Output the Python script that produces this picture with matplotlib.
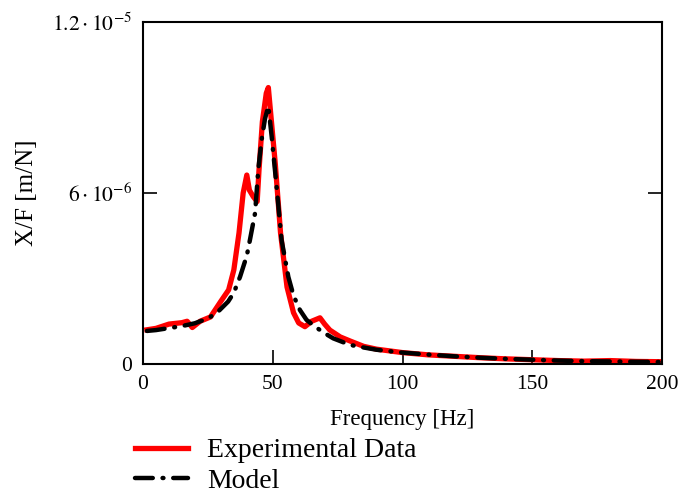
import matplotlib
matplotlib.use("Agg")
import matplotlib.pyplot as plt
import numpy as np

plt.rcParams['font.family'] = ['Liberation Serif', 'DejaVu Serif']
plt.rcParams['mathtext.fontset'] = 'stix'

# Experimental data (frequency in Hz, receptance in 1e-6 m/N)
exp_freq = [1.5, 5, 10, 15, 17, 19, 22, 26, 30, 33, 35, 37, 38.6, 40, 41, 42.5, 44, 44.7,
            46, 47.5, 48.3, 49.5, 51, 53, 55.5, 58, 60, 62.4, 65, 68.2, 70, 72, 76, 80,
            85, 90, 100, 110, 120, 130, 140, 150, 160, 170, 180, 190, 200]
exp_val = [1.2, 1.25, 1.4, 1.45, 1.5, 1.28, 1.5, 1.65, 2.2, 2.6, 3.3, 4.6, 6.0, 6.63, 6.1,
           5.87, 5.7, 6.8, 8.5, 9.5, 9.7, 8.5, 7.0, 4.6, 2.7, 1.8, 1.44, 1.31, 1.5, 1.62,
           1.4, 1.19, 0.95, 0.8, 0.62, 0.52, 0.4, 0.32, 0.27, 0.22, 0.18, 0.15, 0.12,
           0.1, 0.12, 0.09, 0.08]

# Model
mod_freq = [1.5, 5, 10, 15, 20, 25, 28.4, 32.8, 35, 37.4, 40, 41.2, 43.2, 44.4, 45.7, 47,
            48.3, 49.6, 51.5, 53.4, 56, 58, 60.5, 63, 66.3, 70, 73.3, 79.8, 85, 90, 100,
            110, 120, 130, 140, 150, 160, 170, 180, 190, 200]
mod_val = [1.16, 1.19, 1.26, 1.33, 1.43, 1.6, 1.79, 2.19, 2.5, 3.06, 3.8, 4.35, 5.3, 6.8,
           7.86, 8.6, 9.05, 7.97, 6.2, 4.35, 3.06, 2.4, 1.89, 1.55, 1.31, 1.08, 0.9, 0.67,
           0.58, 0.5, 0.4, 0.33, 0.27, 0.22, 0.18, 0.15, 0.12, 0.1, 0.09, 0.08, 0.07]

scale = 1e-6
x_ticks = [0, 50, 100, 150, 200]
y_ticks = [0, 6e-6, 1.2e-5]
y_ticklabels = ['0', r'$6\cdot10^{-6}$', r'$1.2\cdot10^{-5}$']

fig = plt.figure(figsize=(6.81, 4.98), dpi=100)
ax = fig.add_axes([143/681, 1-364/498, (662-143)/681, (364-22)/498])

ax.plot(exp_freq, np.array(exp_val) * scale, color='#ff0000', lw=3.8,
        solid_joinstyle='round', label='Experimental Data', zorder=2)
ax.plot(mod_freq, np.array(mod_val) * scale, color='black', lw=3.2,
        linestyle=(0, (4.0, 2.2, 0.2, 2.2)), dash_capstyle='round',
        label='Model', zorder=3)

ax.set_xlim(0, 200)
ax.set_ylim(0, 1.2e-5)
ax.set_xticks(x_ticks)
ax.set_xticklabels([str(t) for t in x_ticks])
ax.set_yticks(y_ticks)
ax.set_yticklabels(y_ticklabels)
ax.tick_params(axis='x', direction='in', length=10, width=1.2, labelsize=15.5,
               pad=8, top=False)
ax.tick_params(axis='y', direction='in', length=10, width=1.2, labelsize=15.5,
               pad=8, left=True, right=True)
for s in ax.spines.values():
    s.set_linewidth(1.5)

ax.set_xlabel('Frequency [Hz]', fontsize=16.5, labelpad=11)
ax.set_ylabel('X/F [m/N]', fontsize=18, labelpad=10)

fig.legend(loc='upper left', bbox_to_anchor=(135/681, 1-438/498), frameon=False,
           fontsize=20, handlelength=1.9, handletextpad=0.7, labelspacing=0.18,
           borderaxespad=0, borderpad=0)

fig.savefig('out.png', dpi=100)
